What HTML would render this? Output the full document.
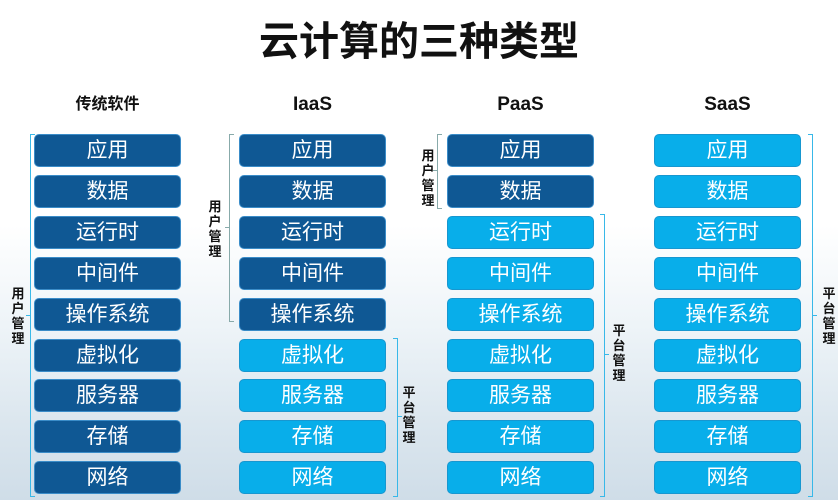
<!DOCTYPE html><html><head><meta charset="utf-8"><style>
body{margin:0;width:838px;height:500px;overflow:hidden;position:relative;font-family:"Liberation Sans","Noto Sans CJK SC",sans-serif;
background:linear-gradient(180deg,#fff 0%,#fff 45%,#eef4f8 65%,#dbe6ee 85%,#cfdde8 100%);}
.t{position:absolute;left:0;width:838px;top:17px;text-align:center;font-size:40px;font-weight:bold;color:#111;line-height:50px}
.h{position:absolute;top:92px;width:147px;text-align:center;font-weight:bold;font-size:19px;color:#111;line-height:26px}
.b{position:absolute;width:145px;height:31px;border:1px solid #3a8cc8;border-radius:5px;color:#fff;font-size:21px;text-align:center;line-height:31px}
.d{background:#0f5894}.l{background:#08aeea;border-color:#1797d0}
.v{position:absolute;width:16px;font-size:13px;font-weight:bold;line-height:15px;text-align:center;color:#111}
.br{position:absolute;border:1.5px solid #38b8e8}
.tk{position:absolute;width:4px;height:0;border-top:1.5px solid #38b8e8}
</style></head><body>
<div class="t">云计算的三种类型</div>
<div class="h" style="left:34px;font-size:16px">传统软件</div>
<div class="h" style="left:239px">IaaS</div>
<div class="h" style="left:447px">PaaS</div>
<div class="h" style="left:654px">SaaS</div>
<div id="c"></div>
<script>
var n=["应用","数据","运行时","中间件","操作系统","虚拟化","服务器","存储","网络"],xs=[34,239,447,654],dk=[9,5,2,0],h="";
for(var c=0;c<4;c++)for(var i=0;i<9;i++){var y=134+i*40.9;h+='<div class="b '+(i<dk[c]?'d':'l')+'" style="left:'+xs[c]+'px;top:'+Math.round(y)+'px">'+n[i]+'</div>';}
document.getElementById('c').innerHTML=h;
</script>
<div class="br" style="left:30px;top:134px;width:4px;height:361px;border-right:none"></div>
<div class="tk" style="left:26px;top:315px"></div>
<div class="v" style="left:10px;top:286px">用<br>户<br>管<br>理</div>
<div class="br" style="left:229px;top:134px;width:4px;height:186px;border-right:none;border-color:#8aa"></div>
<div class="tk" style="left:225px;top:227px;border-color:#8aa"></div>
<div class="v" style="left:207px;top:199px">用<br>户<br>管<br>理</div>
<div class="br" style="left:393px;top:338px;width:4px;height:157px;border-left:none"></div>
<div class="tk" style="left:398px;top:416px"></div>
<div class="v" style="left:401px;top:385px">平<br>台<br>管<br>理</div>
<div class="br" style="left:437px;top:134px;width:4px;height:73px;border-right:none;border-color:#8aa"></div>
<div class="tk" style="left:433px;top:170px;border-color:#8aa"></div>
<div class="v" style="left:420px;top:148px">用<br>户<br>管<br>理</div>
<div class="br" style="left:600px;top:214px;width:4px;height:281px;border-left:none"></div>
<div class="tk" style="left:605px;top:354px"></div>
<div class="v" style="left:611px;top:323px">平<br>台<br>管<br>理</div>
<div class="br" style="left:808px;top:134px;width:4px;height:361px;border-left:none"></div>
<div class="tk" style="left:813px;top:315px"></div>
<div class="v" style="left:821px;top:286px">平<br>台<br>管<br>理</div>
</body></html>
